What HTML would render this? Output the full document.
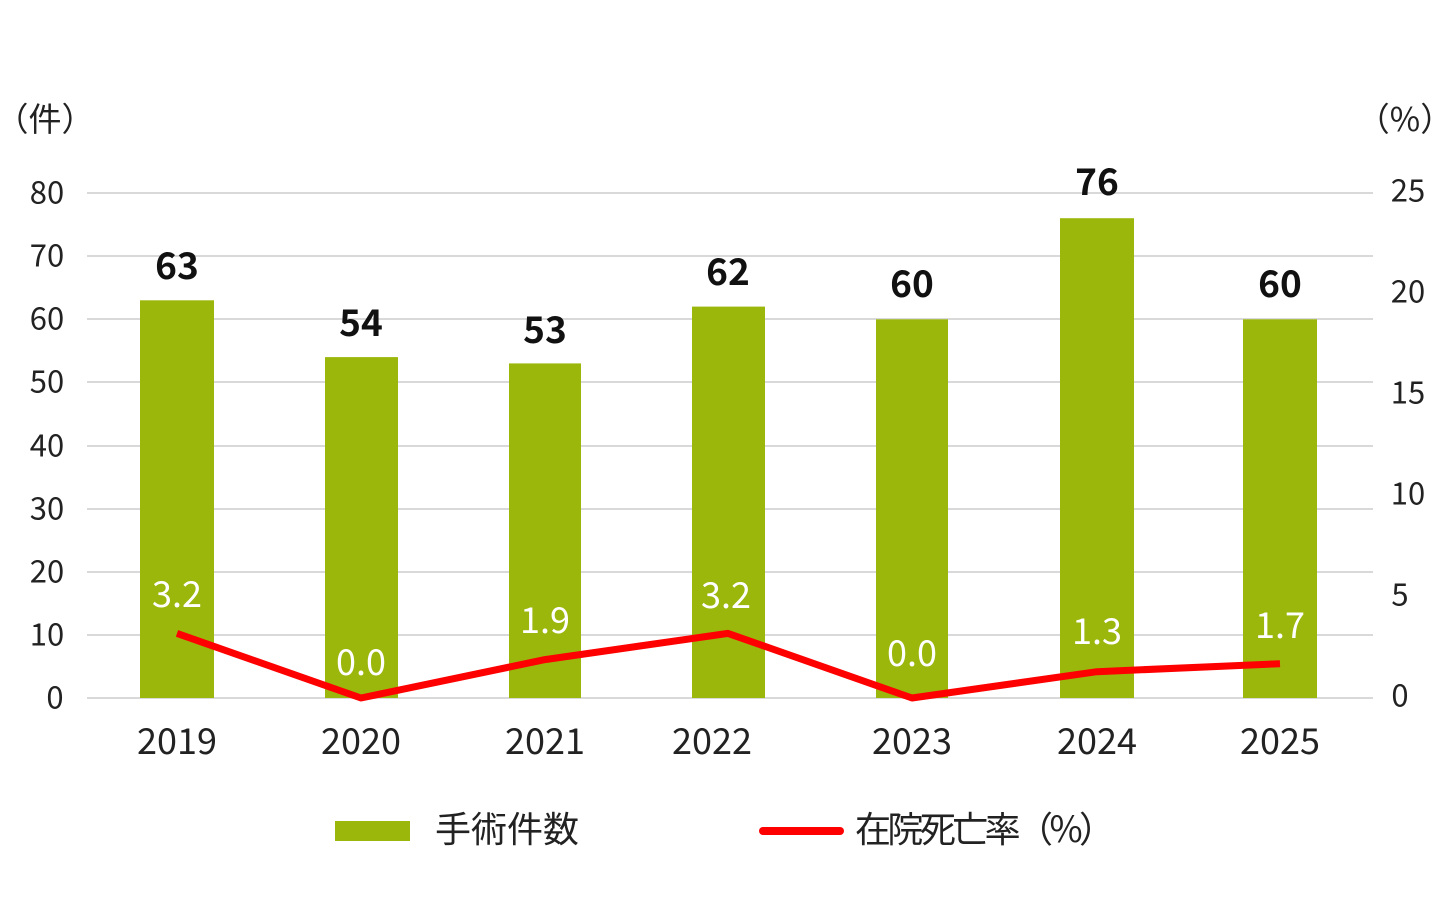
<!DOCTYPE html>
<html><head><meta charset="utf-8"><style>body{margin:0;background:#fff}svg{display:block}text{font-family:"Noto Sans CJK JP","Liberation Sans",sans-serif}</style></head><body>
<svg width="1450" height="900" viewBox="0 0 1450 900" xmlns="http://www.w3.org/2000/svg">
<g stroke="#d9d9d9" stroke-width="2">
<line x1="87" x2="1373" y1="193" y2="193"/><line x1="87" x2="1373" y1="256" y2="256"/><line x1="87" x2="1373" y1="319" y2="319"/><line x1="87" x2="1373" y1="382" y2="382"/><line x1="87" x2="1373" y1="446" y2="446"/><line x1="87" x2="1373" y1="509" y2="509"/><line x1="87" x2="1373" y1="572" y2="572"/><line x1="87" x2="1373" y1="635" y2="635"/><line x1="87" x2="1373" y1="698" y2="698"/>
</g>
<g font-size="31" fill="#222" text-anchor="middle" dominant-baseline="central">
<text x="47" y="190">80</text><text x="47" y="253">70</text><text x="47" y="316">60</text><text x="47" y="379">50</text><text x="47" y="443">40</text><text x="47" y="506">30</text><text x="47" y="569">20</text><text x="47" y="632">10</text><text x="55" y="695">0</text>
<text x="1408" y="188">25</text><text x="1408" y="289">20</text><text x="1408" y="390">15</text><text x="1408" y="491">10</text><text x="1400" y="592">5</text><text x="1400" y="693">0</text>
<text x="45" y="117" font-size="33">（件）</text><text x="1405" y="117" font-size="33">（%）</text>
</g>
<g fill="#9bb70c">
<rect x="140" y="300.3" width="74" height="397.7"/><rect x="325" y="357.1" width="73" height="340.9"/><rect x="509" y="363.4" width="72" height="334.6"/><rect x="692" y="306.6" width="73" height="391.4"/><rect x="876" y="319.3" width="72" height="378.7"/><rect x="1060" y="218.2" width="74" height="479.8"/><rect x="1243" y="319.3" width="74" height="378.7"/>
</g>
<polyline points="177,633.4 361,698 545,659.6 728,633.4 912,698 1097,671.7 1280,663.7" fill="none" stroke="#ff0000" stroke-width="7" stroke-linejoin="round"/>
<g font-size="37" font-weight="bold" fill="#111" text-anchor="middle" dominant-baseline="central">
<text x="177" y="263">63</text><text x="361" y="320">54</text><text x="545" y="327">53</text><text x="728" y="269">62</text><text x="912" y="281">60</text><text x="1097" y="179">76</text><text x="1280" y="281">60</text>
</g>
<g font-size="36" fill="#fff" text-anchor="middle" dominant-baseline="central">
<text x="177" y="592">3.2</text><text x="361" y="660">0.0</text><text x="545" y="618">1.9</text><text x="726" y="593">3.2</text><text x="912" y="651">0.0</text><text x="1097" y="629">1.3</text><text x="1280" y="623">1.7</text>
</g>
<g font-size="36" fill="#222" text-anchor="middle" dominant-baseline="central">
<text x="177" y="739">2019</text><text x="361" y="739">2020</text><text x="545" y="739">2021</text><text x="712" y="739">2022</text><text x="912" y="739">2023</text><text x="1097" y="739">2024</text><text x="1280" y="739">2025</text>
</g>
<rect x="335" y="821" width="75" height="20" fill="#9bb70c"/>
<line x1="763" x2="840" y1="831" y2="831" stroke="#ff0000" stroke-width="8" stroke-linecap="round"/>
<g font-size="36" fill="#222" dominant-baseline="central">
<text x="435" y="827">手術件数</text><text x="855" y="827" textLength="260">在院死亡率（%）</text>
</g>
</svg>
</body></html>
